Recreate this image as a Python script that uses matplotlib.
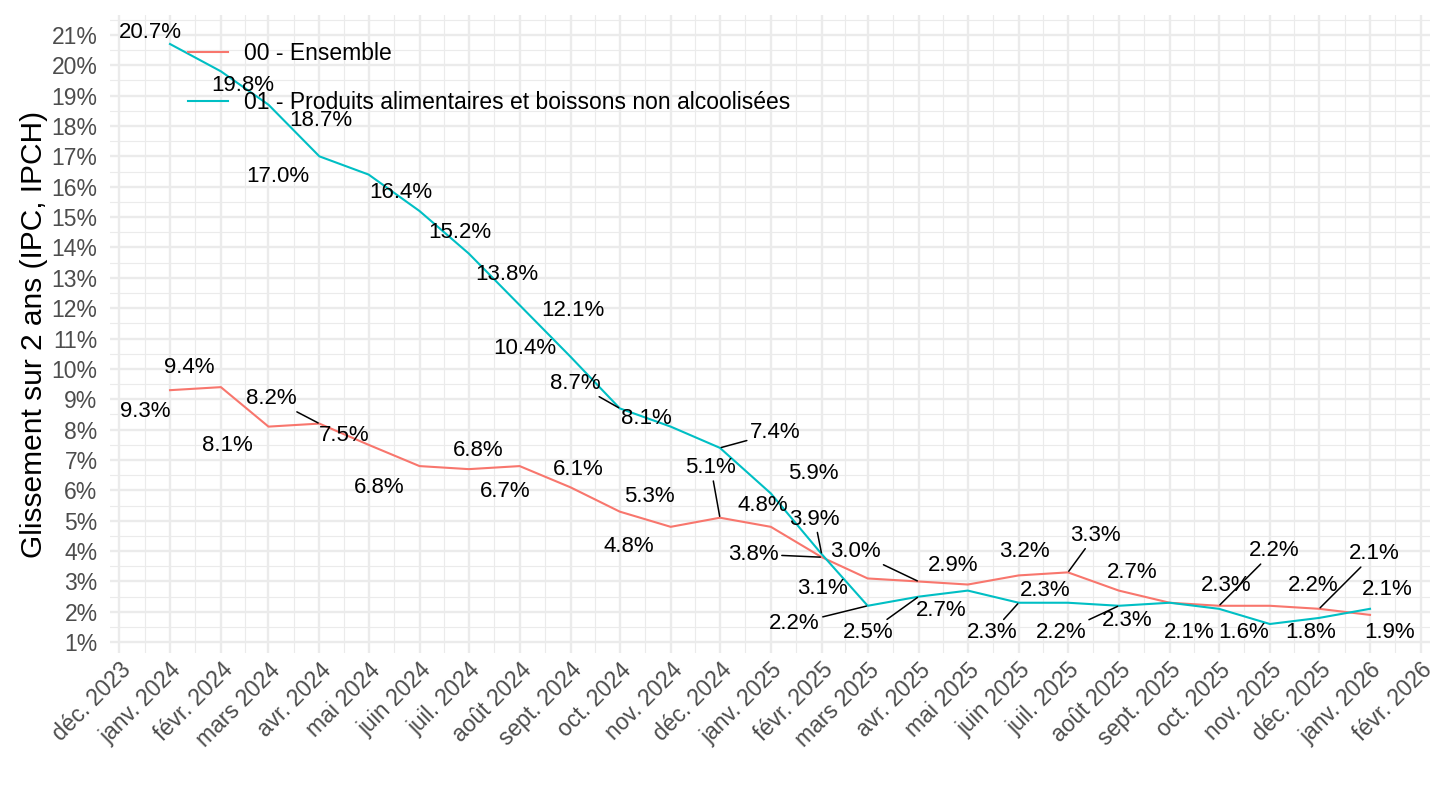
import matplotlib
matplotlib.use("Agg")
import matplotlib.pyplot as plt
import matplotlib.dates as mdates
import pandas as pd
import numpy as np

plt.rcParams['font.family'] = ['Liberation Sans', 'DejaVu Sans']

# données : glissement sur 2 ans, en %
mois = pd.date_range('2024-01-01', '2026-01-01', freq='MS')
ensemble = [9.3, 9.4, 8.1, 8.2, 7.5, 6.8, 6.7, 6.8, 6.1, 5.3, 4.8, 5.1,
            4.8, 3.8, 3.1, 3.0, 2.9, 3.2, 3.3, 2.7, 2.3, 2.2, 2.2, 2.1, 1.9]
alim = [20.7, 19.8, 18.7, 17.0, 16.4, 15.2, 13.8, 12.1, 10.4, 8.7, 8.1, 7.4,
        5.9, 3.9, 2.2, 2.5, 2.7, 2.3, 2.3, 2.2, 2.3, 2.1, 1.6, 1.8, 2.1]
noms = ['00 - Ensemble', '01 - Produits alimentaires et boissons non alcoolisées']

ticks_x = pd.date_range('2023-12-01', '2026-02-01', freq='MS')
labels_x = ['déc. 2023', 'janv. 2024', 'févr. 2024', 'mars 2024', 'avr. 2024',
            'mai 2024', 'juin 2024', 'juil. 2024', 'août 2024', 'sept. 2024',
            'oct. 2024', 'nov. 2024', 'déc. 2024', 'janv. 2025', 'févr. 2025',
            'mars 2025', 'avr. 2025', 'mai 2025', 'juin 2025', 'juil. 2025',
            'août 2025', 'sept. 2025', 'oct. 2025', 'nov. 2025', 'déc. 2025',
            'janv. 2026', 'févr. 2026']

# décalage des étiquettes (pixels, y vers le bas), segment ou non (façon ggrepel)
off_ens = [(-25, 21, 0), (-32, -20, 0), (-41, 19, 0), (-48, -25, 1), (-24, -9, 0),
           (-40, 21, 0), (36, 22, 0), (-41, -16, 0), (8, -18, 0), (30, -15, 0),
           (-42, 20, 0), (-9, -50, 1), (-8, -21, 0), (-68, -3, 1), (-45, 10, 0),
           (-63, -30, 1), (-15, -19, 0), (6, -24, 0), (27, -37, 1), (13, -18, 0),
           (56, -17, 0), (55, -55, 1), (43, -20, 0), (55, -55, 1), (20, 18, 0)]
off_alim = [(-20, -11, 0), (22, 14, 0), (52, 16, 0), (-42, 20, 0), (32, 18, 0),
            (40, 21, 0), (38, 21, 0), (53, 5, 0), (-46, -8, 0), (-44, -25, 1),
            (-24, -8, 0), (55, -15, 1), (42, -20, 0), (-7, -35, 1), (-73, 18, 1),
            (-50, 36, 1), (-27, 20, 0), (-27, 30, 1), (-23, -12, 0), (-58, 27, 1),
            (-43, 18, 0), (-30, 24, 0), (-26, 9, 0), (-8, 15, 0), (17, -19, 0)]

rouge = '#F8766D'
cyan = '#00BFC4'

fig = plt.figure(figsize=(14.4, 8.1), dpi=100)
ax = fig.add_axes([110/1440, 1-653/810, 1320/1440, 638/810])

ax.plot(mois, ensemble, color=rouge, lw=1.5, label=noms[0], zorder=3)
ax.plot(mois, alim, color=cyan, lw=1.5, label=noms[1], zorder=4)

k = 72/100
for serie, offs in [(ensemble, off_ens), (alim, off_alim)]:
    for d, v, (dx, dy, seg) in zip(mois, serie, offs):
        props = None
        if seg:
            props = dict(arrowstyle='-', color='black', lw=1.1, shrinkA=0, shrinkB=1)
        ax.annotate('%.1f%%' % v, xy=(d, v), xytext=(dx*k, -dy*k),
                    textcoords='offset points', ha='center', va='center',
                    fontsize=16, color='black', arrowprops=props, zorder=5)

# limites façon ggplot (expansion 5 %)
x0, x1 = mdates.date2num(mois[0]), mdates.date2num(mois[-1])
ex = (x1 - x0) * 0.05
ax.set_xlim(x0 - ex, x1 + ex)
ymin, ymax = min(min(ensemble), min(alim)), max(max(ensemble), max(alim))
ey = (ymax - ymin) * 0.05
ax.set_ylim(ymin - ey, ymax + ey)

tx = mdates.date2num(ticks_x)
ax.set_xticks(tx)
ax.set_xticklabels(labels_x, rotation=45, ha='right', va='top', rotation_mode='anchor')
ax.set_xticks((tx[:-1] + tx[1:]) / 2, minor=True)
ax.set_yticks(np.arange(1, 22))
ax.set_yticklabels(['%d%%' % i for i in range(1, 22)])
ax.set_yticks(np.arange(1.5, 22, 1), minor=True)

ax.tick_params(which='both', length=0)
ax.tick_params(axis='both', labelsize=16.5, labelcolor='#4D4D4D')
ax.tick_params(axis='y', pad=9)
ax.tick_params(axis='x', pad=4)
ax.grid(which='major', color='#EBEBEB', lw=1.7)
ax.grid(which='minor', color='#EBEBEB', lw=0.85)
ax.set_axisbelow(True)
for s in ax.spines.values():
    s.set_visible(False)

ax.set_ylabel('Glissement sur 2 ans (IPC, IPCH)', fontsize=21.5, color='black')
ax.yaxis.set_label_coords(-0.047, 0.5)

ax.legend(loc='upper left', bbox_to_anchor=(188/1440, 1-42/810),
          bbox_transform=fig.transFigure, frameon=False, fontsize=16.5,
          handlelength=1.75, handletextpad=0.7, labelspacing=1.15,
          borderpad=0, borderaxespad=0)

fig.savefig('out.png', dpi=100)
